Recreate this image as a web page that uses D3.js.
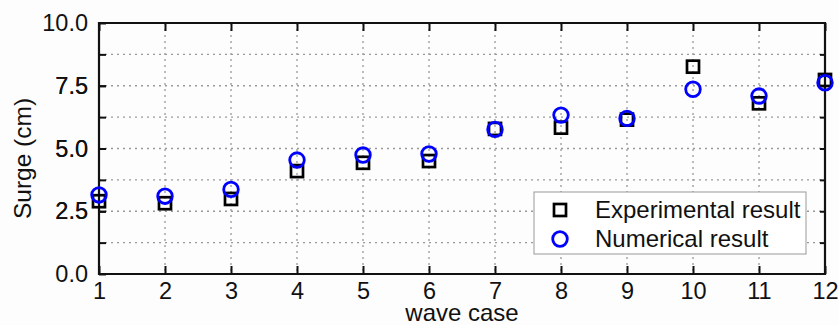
<!DOCTYPE html>
<html lang="en">
<head>
    <meta charset="UTF-8" />
    <title>Surge vs wave case</title>
    <script src="https://d3js.org/d3.v7.min.js"></script>
    <style>
        body {
            margin: 0;
            background-color: #fdfdfd;
            font-family: "Liberation Sans", Arial, sans-serif;
        }
    </style>
</head>
<body>
    <svg id="chart" width="839" height="325"></svg>
    <script>
        // data
        var cases = [1, 2, 3, 4, 5, 6, 7, 8, 9, 10, 11, 12];
        var experimental = [2.9, 2.82, 2.99, 4.1, 4.43, 4.5, 5.78, 5.83, 6.15, 8.26, 6.8, 7.73];
        var numerical = [3.15, 3.1, 3.37, 4.54, 4.74, 4.78, 5.76, 6.33, 6.2, 7.36, 7.09, 7.62];
        var yTickValues = [0, 2.5, 5, 7.5, 10];
        var yGridValues = [1.25, 2.5, 3.75, 5, 6.25, 7.5, 8.75];
        var seriesNames = ["Experimental result", "Numerical result"];

        var svg = d3.select("#chart");
        var pLeft = 99, pRight = 825, pTop = 23, pBottom = 274;

        var x = d3.scaleLinear().domain([1, 12]).range([pLeft, pRight]);
        var y = d3.scaleLinear().domain([0, 10]).range([pBottom, pTop]);

        // dotted grid
        svg.selectAll(".vgrid")
            .data(cases.slice(1, -1))
            .enter().append("line")
            .attr("x1", d => x(d)).attr("x2", d => x(d))
            .attr("y1", pTop).attr("y2", pBottom)
            .style("stroke", "#999").style("stroke-width", 1.3)
            .style("stroke-dasharray", "2,4");

        svg.selectAll(".hgrid")
            .data(yGridValues)
            .enter().append("line")
            .attr("x1", pLeft).attr("x2", pRight)
            .attr("y1", d => y(d)).attr("y2", d => y(d))
            .style("stroke", "#999").style("stroke-width", 1.3)
            .style("stroke-dasharray", "2,4");

        // axes with inward ticks
        var xAxis = d3.axisBottom(x).tickValues(cases).tickSize(-8).tickPadding(8).tickFormat(d3.format("d"));
        var yAxis = d3.axisLeft(y).tickValues(yTickValues.concat(yGridValues)).tickSize(-7).tickPadding(11)
            .tickFormat(d => yTickValues.indexOf(d) >= 0 ? d3.format(".1f")(d) : "");
        var xTop = d3.axisTop(x).tickValues(cases).tickSize(-8).tickFormat("");
        var yRight = d3.axisRight(y).tickValues(yGridValues).tickSize(-5).tickFormat("");

        function styleAxis(g) {
            g.select(".domain").remove();
            g.selectAll(".tick line").style("stroke", "#111").style("stroke-width", 2);
            g.selectAll(".tick text").style("fill", "#111").style("font-size", "23.5px")
                .style("font-family", "'Liberation Sans', Arial, sans-serif");
        }

        svg.append("g").attr("transform", "translate(0," + pBottom + ")").call(xAxis).call(styleAxis);
        svg.append("g").attr("transform", "translate(" + pLeft + ",0)").call(yAxis).call(styleAxis);
        svg.append("g").attr("transform", "translate(0," + pTop + ")").call(xTop).call(styleAxis);
        svg.append("g").attr("transform", "translate(" + pRight + ",0)").call(yRight).call(styleAxis);

        // frame
        svg.append("path")
            .attr("d", "M" + pLeft + "," + pTop + "H" + pRight + "V" + pBottom + "H" + pLeft + "Z")
            .style("fill", "none").style("stroke", "#111").style("stroke-width", 2.2);

        // axis titles
        svg.append("text")
            .attr("x", (pLeft + pRight) / 2).attr("y", 321)
            .attr("text-anchor", "middle")
            .style("font-size", "24px").style("fill", "#111")
            .text("wave case");

        svg.append("text")
            .attr("transform", "translate(31," + ((pTop + pBottom) / 2 + 10) + ") rotate(-90)")
            .attr("text-anchor", "middle")
            .style("font-size", "24.5px").style("fill", "#111")
            .text("Surge (cm)");

        // markers
        var sq = 12;
        svg.selectAll(".exp")
            .data(experimental)
            .enter().append("rect")
            .attr("x", (d, i) => x(cases[i]) - sq / 2)
            .attr("y", d => y(d) - sq / 2)
            .attr("width", sq).attr("height", sq)
            .style("fill", "none").style("stroke", "#000").style("stroke-width", 2.7);

        svg.selectAll(".num")
            .data(numerical)
            .enter().append("circle")
            .attr("cx", (d, i) => x(cases[i]))
            .attr("cy", d => y(d))
            .attr("r", 7.3)
            .style("fill", "none").style("stroke", "#0000ff").style("stroke-width", 2.8);

        // legend
        var legend = svg.append("g");
        legend.append("rect")
            .attr("x", 534).attr("y", 192).attr("width", 272).attr("height", 62)
            .style("fill", "#fff").style("stroke", "#999").style("stroke-width", 1);
        legend.append("rect")
            .attr("x", 560 - sq / 2).attr("y", 210 - sq / 2).attr("width", sq).attr("height", sq)
            .style("fill", "none").style("stroke", "#000").style("stroke-width", 2.7);
        legend.append("circle")
            .attr("cx", 560).attr("cy", 239).attr("r", 7.3)
            .style("fill", "none").style("stroke", "#0000ff").style("stroke-width", 2.8);
        legend.selectAll(".ltext")
            .data(seriesNames)
            .enter().append("text")
            .attr("x", 595)
            .attr("y", (d, i) => 218 + i * 29)
            .style("font-size", "24px").style("fill", "#111")
            .text(d => d);
    </script>
</body>
</html>
